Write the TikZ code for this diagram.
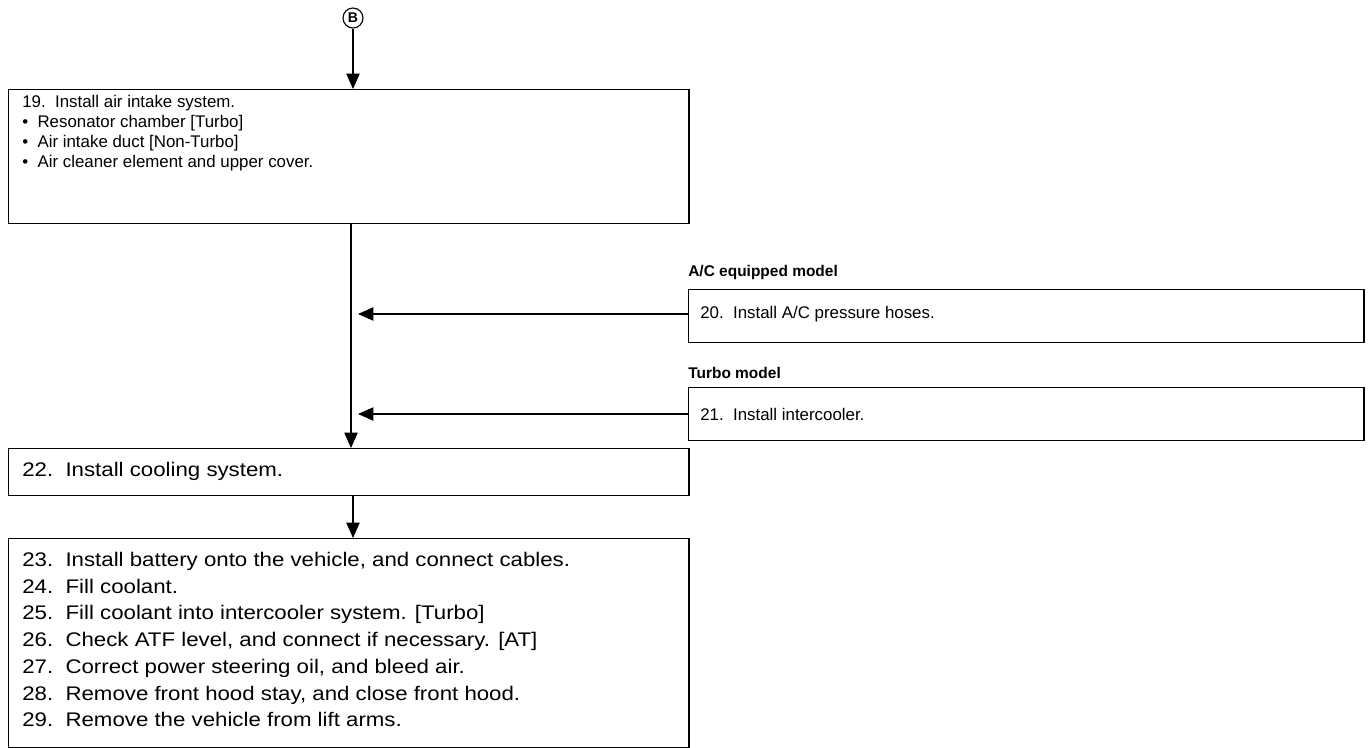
\documentclass[tikz,border=0pt]{standalone}
\usepackage{fontspec}
\setmainfont{Liberation Sans}
\newfontfamily\lowfont[FakeStretch=1.13]{Liberation Sans}
\usetikzlibrary{arrows.meta}
\begin{document}
\begin{tikzpicture}[x=0.025cm, y=-0.025cm,
    box/.style={draw, line width=1pt, anchor=north west, inner sep=0pt},
    upper/.style={anchor=west, align=left, inner sep=0pt, font=\fontsize{12}{14.2}\selectfont},
    lower/.style={anchor=west, align=left, inner sep=0pt, font=\lowfont\fontsize{14}{19}\selectfont},
    head/.style={anchor=west, inner sep=0pt, font=\bfseries\fontsize{11}{13}\selectfont},
    flow/.style={line width=0.9pt, -{Triangle[length=11pt, width=9.5pt]}}]
  \useasboundingbox (0,0) rectangle (1370,748);
  % boxes, in page pixels
  \node[circle, draw, line width=0.8pt, minimum size=0.5cm, inner sep=0pt,
        font=\bfseries\fontsize{10}{10}\selectfont] (b) at (353,18) {B};
  \node[box, minimum width=17cm, minimum height=3.35cm] (s19) at (8,89) {};
  \node[box, minimum width=16.875cm, minimum height=1.325cm] (s20) at (688,289) {};
  \node[box, minimum width=16.875cm, minimum height=1.325cm] (s21) at (688,387) {};
  \node[box, minimum width=17cm, minimum height=1.175cm] (s22) at (8,448) {};
  \node[box, minimum width=17cm, minimum height=5.225cm] (s23) at (8,538) {};

  \node[upper, anchor=north west] (t19) at (22,95) {19.~~Install air intake system.\\
    \textbullet~~Resonator chamber [Turbo]\\
    \textbullet~~Air intake duct [Non-Turbo]\\
    \textbullet~~Air cleaner element and upper cover.};
  \node[head] (h20) at (688,273) {A/C equipped model};
  \node[upper] (t20) at (700,314) {20.~~Install A/C pressure hoses.};
  \node[head] (h21) at (688,373) {Turbo model};
  \node[upper] (t21) at (700,414) {21.~~Install intercooler.};
  \node[lower] (t22) at (22,471) {22.~~Install cooling system.};
  \node[lower, anchor=north west] (t23) at (22,552) {23.~~Install battery onto the vehicle, and connect cables.\\
    24.~~Fill coolant.\\
    25.~~Fill coolant into intercooler system. [Turbo]\\
    26.~~Check ATF level, and connect if necessary. [AT]\\
    27.~~Correct power steering oil, and bleed air.\\
    28.~~Remove front hood stay, and close front hood.\\
    29.~~Remove the vehicle from lift arms.};

  \coordinate (j20) at (358,314);
  \coordinate (j21) at (358,414);
  \draw[flow] (b) -- (s19.north -| b);
  \draw[flow] (s19.south -| 351,0) -- (s22.north -| 351,0);
  \draw[flow] (s20.west |- j20) -- (j20);
  \draw[flow] (s21.west |- j21) -- (j21);
  \draw[flow] (s22.south -| b) -- (s23.north -| b);
\end{tikzpicture}
\end{document}
